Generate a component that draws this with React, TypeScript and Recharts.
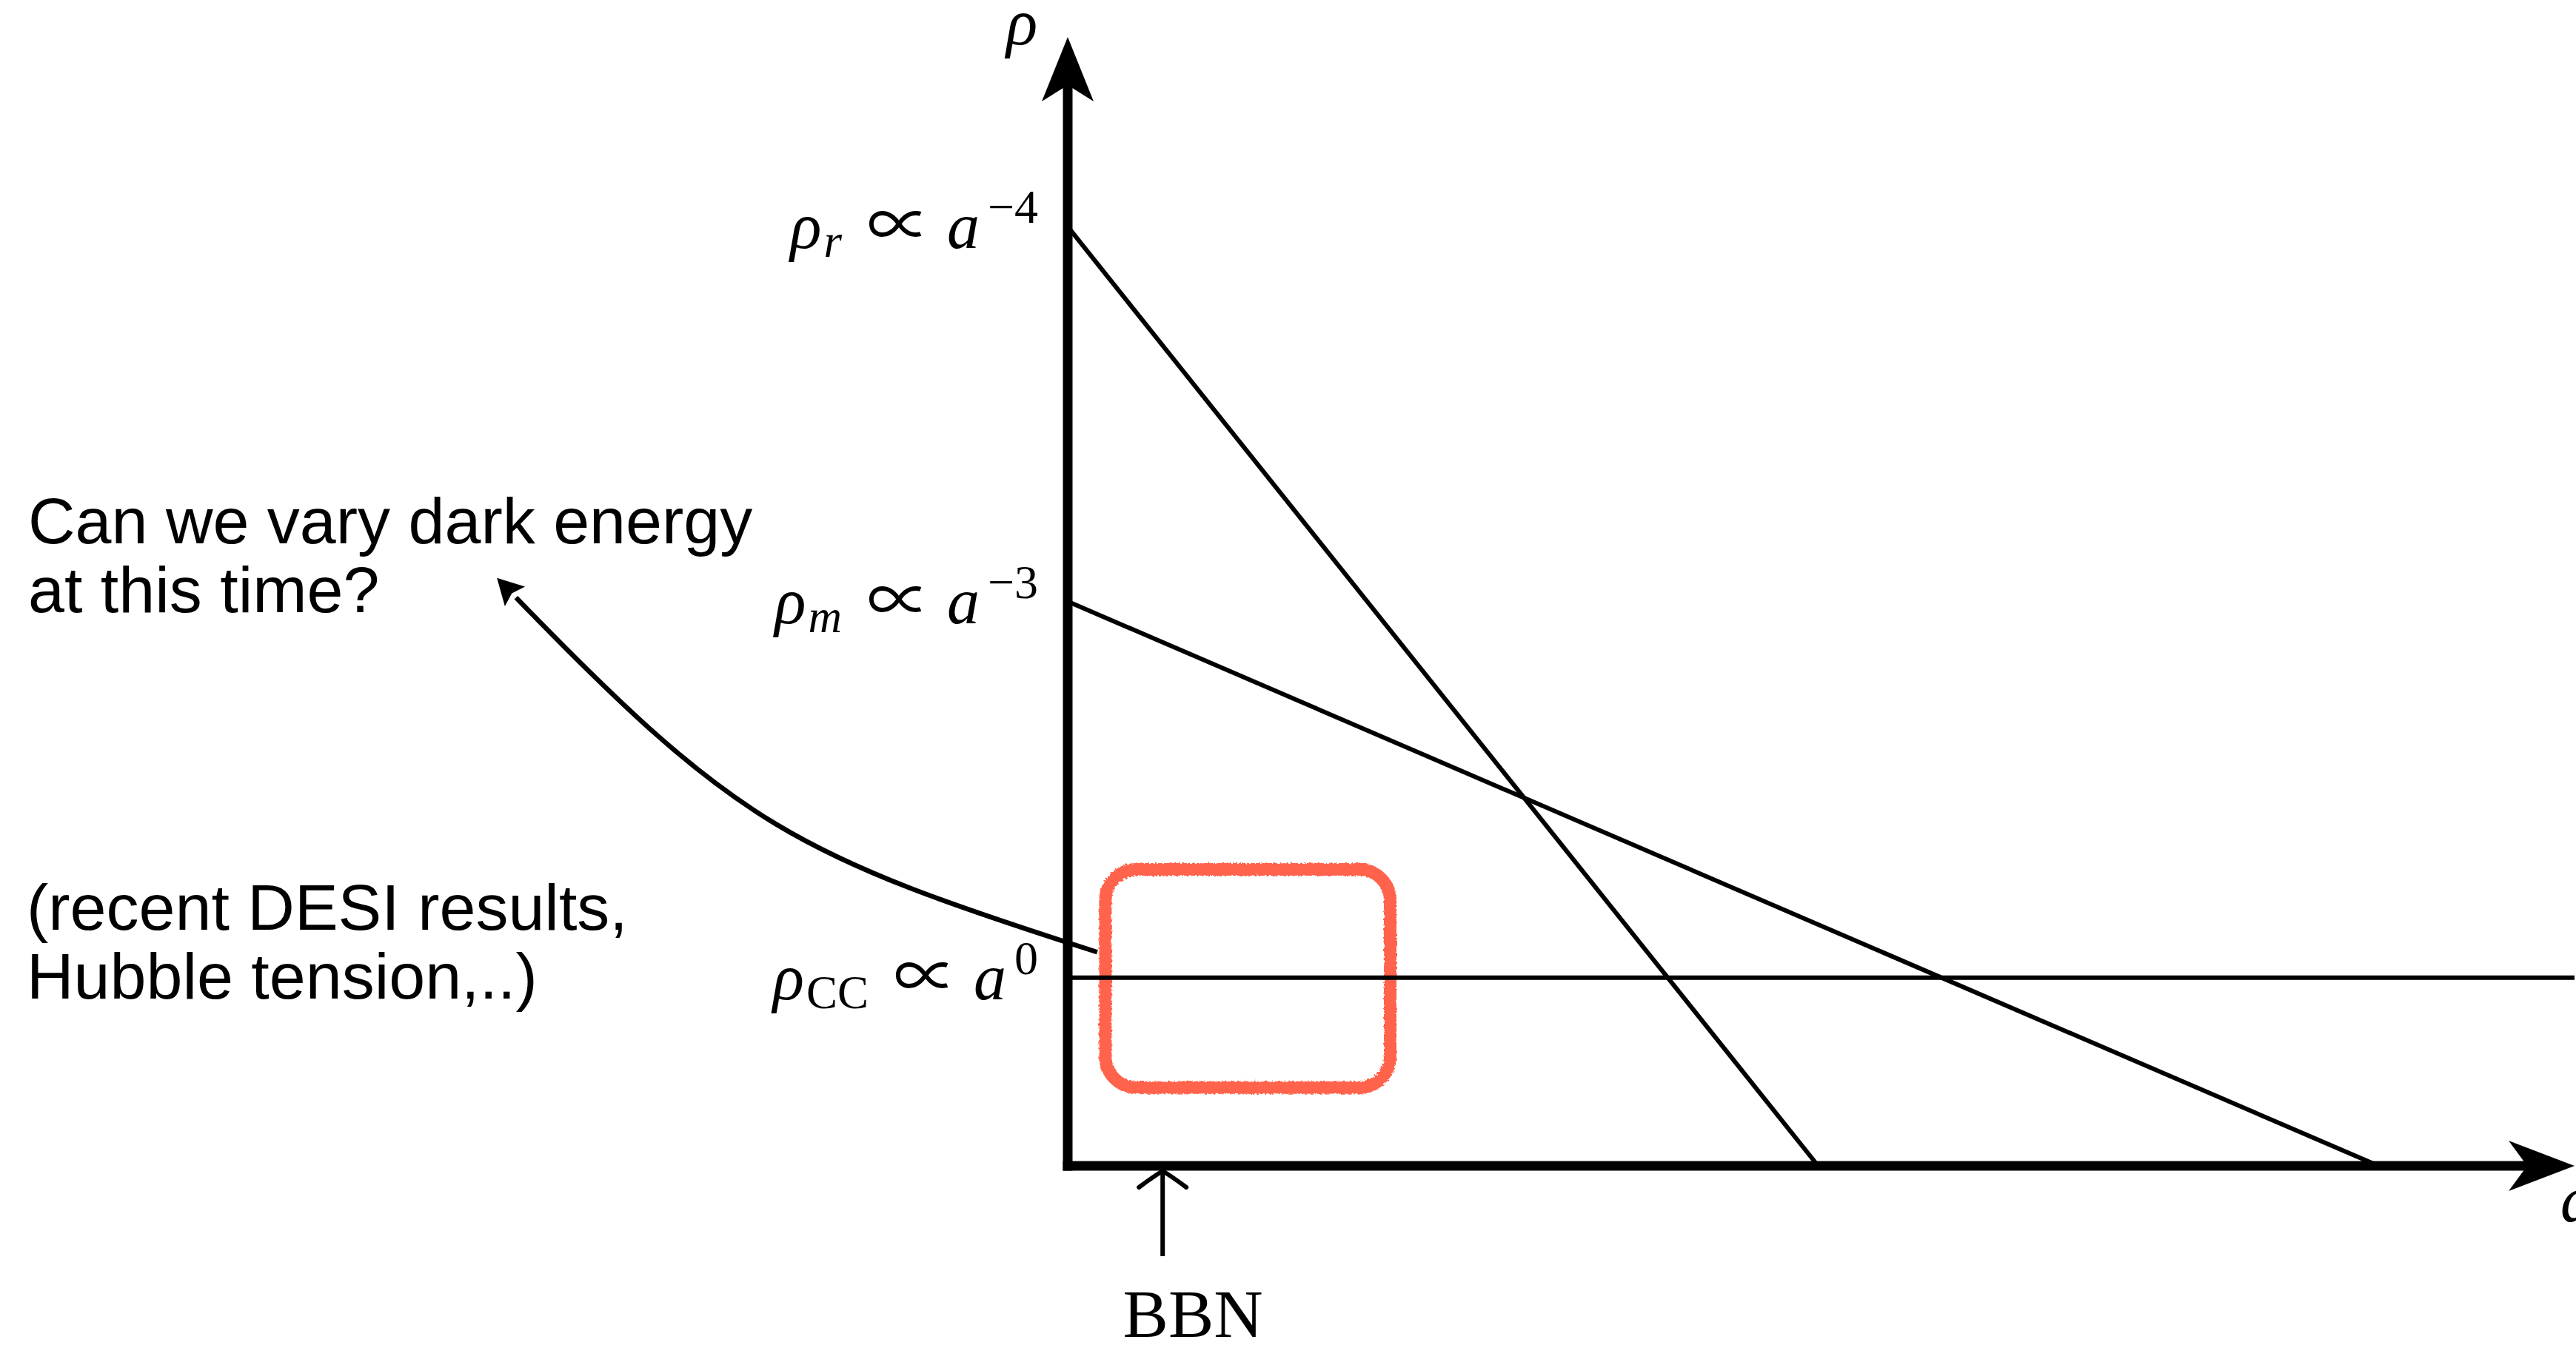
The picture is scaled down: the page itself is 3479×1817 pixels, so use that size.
import React from 'react';
import {
  LineChart,
  Line,
  XAxis,
  YAxis,
  ReferenceLine,
  ReferenceDot,
  ReferenceArea
} from 'recharts';

// values, in arbitrary units (a along x, rho along y)
const radiationA = [0, 4.98];
const radiationRho = [6.24, 0];
const matterA = [0, 8.7];
const matterRho = [3.75, 0];
const lambdaA = [0, 10];
const lambdaRho = [1.25, 1.25];

const seriesSubs = ['r', 'm', 'CC'];
const seriesPowers = ['−4', '−3', '0'];
const seriesStartRho = [radiationRho[0], matterRho[0], lambdaRho[0]];

const bbnA = 0.63;
const windowA = [0.25, 2.14];
const windowRho = [0.52, 1.97];
const arrowStartRho = 1.42;

const questionLines = ['Can we vary dark energy', 'at this time?'];
const noteLines = ['(recent DESI results,', 'Hubble tension,..)'];

const X_MAX = 10;
const Y_MAX = 7.5;

const W = 3479;
const H = 1817;
const SERIF = '"Liberation Serif", "DejaVu Serif", serif';
const SANS = '"Liberation Sans", Arial, sans-serif';
const CJK = '"Noto Sans CJK JP", "DejaVu Serif", serif';
const CORAL = '#FF634C';

const toPoints = (a: number[], rho: number[]) => a.map((v, i) => ({ a: v, rho: rho[i] }));

const SeriesLabel = ({ cx, cy, idx }: any) => {
  const sub = seriesSubs[idx];
  return (
    <text x={cx - 40} y={cy + 29} textAnchor="end" fontFamily={SERIF} fontSize={84} fill="#000">
      <tspan fontStyle="italic" fontSize={88}>ρ</tspan>
      <tspan fontStyle={sub === 'CC' ? 'normal' : 'italic'} fontSize={63} dx={3} dy={12}>
        {sub}
      </tspan>
      <tspan fontFamily={CJK} fontSize={86} dx={34} dy={-12}>∝</tspan>
      <tspan fontStyle="italic" fontSize={88} dx={22}>a</tspan>
      <tspan fontSize={64} dx={11} dy={-34}>{seriesPowers[idx]}</tspan>
    </text>
  );
};

const UpArrow = ({ cx, cy }: any) => (
  <g>
    <polygon
      points={`${cx},${cy} ${cx + 35},${cy + 87} ${cx},${cy + 65} ${cx - 35},${cy + 87}`}
      fill="#000"
    />
    <text x={cx - 62} y={cy + 10} textAnchor="middle" fontFamily={SERIF} fontStyle="italic" fontSize={88}>
      ρ
    </text>
  </g>
);

const RightArrow = ({ cx, cy }: any) => (
  <g>
    <polygon
      points={`${cx},${cy} ${cx - 89},${cy - 34} ${cx - 64},${cy} ${cx - 89},${cy + 34}`}
      fill="#000"
    />
    <text x={cx - 19} y={cy + 75} fontFamily={SERIF} fontStyle="italic" fontSize={88}>
      a
    </text>
  </g>
);

const BbnMarker = ({ cx, cy }: any) => (
  <g>
    <line x1={cx} y1={cy + 10} x2={cx} y2={cy + 122} stroke="#000" strokeWidth={6} />
    <path
      d={`M${cx - 32},${cy + 29} Q${cx - 12},${cy + 14} ${cx},${cy + 7} Q${cx + 12},${cy + 14} ${cx + 32},${cy + 29}`}
      fill="none"
      stroke="#000"
      strokeWidth={6}
      strokeLinecap="round"
    />
    <text x={cx + 41} y={cy + 231} textAnchor="middle" fontFamily={SERIF} fontSize={92}>
      BBN
    </text>
  </g>
);

const SketchBox = ({ x, y, width, height }: any) => (
  <g>
    <defs>
      <filter id="rough" x="-5%" y="-5%" width="110%" height="110%">
        <feTurbulence type="fractalNoise" baseFrequency="0.35" numOctaves={2} result="n" />
        <feDisplacementMap in="SourceGraphic" in2="n" scale={5} />
      </filter>
    </defs>
    <rect
      x={x}
      y={y}
      width={width}
      height={height}
      rx={42}
      ry={42}
      fill="none"
      stroke={CORAL}
      strokeWidth={17}
      filter="url(#rough)"
    />
  </g>
);

const CurvedArrow = ({ cx, cy }: any) => {
  const sx = cx - 11;
  const sy = cy;
  const e = [sx - 785, sy - 479];
  // tangents: shallow at the box, about 45 degrees at the head
  const c1 = [sx - 0.952 * 430, sy - 0.305 * 430];
  const c2 = [e[0] + 0.696 * 430, e[1] + 0.718 * 430];
  const dx = e[0] - c2[0];
  const dy = e[1] - c2[1];
  const len = Math.hypot(dx, dy);
  const d = [dx / len, dy / len];
  const p = [-d[1], d[0]];
  const tip = [e[0] + d[0] * 37, e[1] + d[1] * 37];
  const notch = [e[0] + d[0] * 8, e[1] + d[1] * 8];
  const b1 = [e[0] + d[0] * 2 + p[0] * 19, e[1] + d[1] * 2 + p[1] * 19];
  const b2 = [e[0] + d[0] * 2 - p[0] * 19, e[1] + d[1] * 2 - p[1] * 19];
  return (
    <g>
      <path
        d={`M${sx},${sy} C${c1[0]},${c1[1]} ${c2[0]},${c2[1]} ${e[0]},${e[1]}`}
        fill="none"
        stroke="#000"
        strokeWidth={6.5}
      />
      <polygon
        points={`${tip[0]},${tip[1]} ${b1[0]},${b1[1]} ${notch[0]},${notch[1]} ${b2[0]},${b2[1]}`}
        fill="#000"
      />
    </g>
  );
};

export default function App() {
  const series = [
    toPoints(radiationA, radiationRho),
    toPoints(matterA, matterRho),
    toPoints(lambdaA, lambdaRho)
  ];

  return (
    <div style={{ position: 'absolute', left: 0, top: 0, width: W, height: H, background: '#fff' }}>
      <LineChart width={W} height={H} margin={{ top: 50, right: 2, bottom: 242, left: 1442 }}>
        <XAxis type="number" dataKey="a" domain={[0, X_MAX]} hide />
        <YAxis type="number" dataKey="rho" domain={[0, Y_MAX]} hide />

        {series.map((pts, i) => (
          <Line
            key={seriesSubs[i]}
            data={pts}
            dataKey="rho"
            stroke="#000"
            strokeWidth={6}
            dot={false}
            activeDot={false}
            isAnimationActive={false}
          />
        ))}

        <ReferenceLine
          segment={[{ x: 0, y: 0 }, { x: 0, y: 7.2 }]}
          stroke="#000"
          strokeWidth={13}
          strokeLinecap="square"
        />
        <ReferenceLine
          segment={[{ x: 0, y: 0 }, { x: 9.7, y: 0 }]}
          stroke="#000"
          strokeWidth={13}
          strokeLinecap="square"
        />
        <ReferenceDot x={0} y={Y_MAX} r={1} shape={(p: any) => <UpArrow {...p} />} />
        <ReferenceDot x={X_MAX} y={0} r={1} shape={(p: any) => <RightArrow {...p} />} />

        {seriesStartRho.map((rho, i) => (
          <ReferenceDot
            key={`lbl-${i}`}
            x={0}
            y={rho}
            r={1}
            shape={(p: any) => <SeriesLabel {...p} idx={i} />}
          />
        ))}

        <ReferenceDot x={bbnA} y={0} r={1} shape={(p: any) => <BbnMarker {...p} />} />

        <ReferenceArea
          x1={windowA[0]}
          x2={windowA[1]}
          y1={windowRho[0]}
          y2={windowRho[1]}
          shape={(p: any) => <SketchBox {...p} />}
        />
        <ReferenceDot
          x={windowA[0]}
          y={arrowStartRho}
          r={1}
          shape={(p: any) => <CurvedArrow {...p} />}
        />
      </LineChart>

      <svg
        width={W}
        height={H}
        style={{ position: 'absolute', left: 0, top: 0, pointerEvents: 'none' }}
      >
        {questionLines.map((t, i) => (
          <text key={t} x={38} y={734 + i * 93} fontFamily={SANS} fontSize={88} fill="#000">
            {t}
          </text>
        ))}
        {noteLines.map((t, i) => (
          <text key={t} x={36} y={1256 + i * 93} fontFamily={SANS} fontSize={88} fill="#000">
            {t}
          </text>
        ))}
      </svg>
    </div>
  );
}
